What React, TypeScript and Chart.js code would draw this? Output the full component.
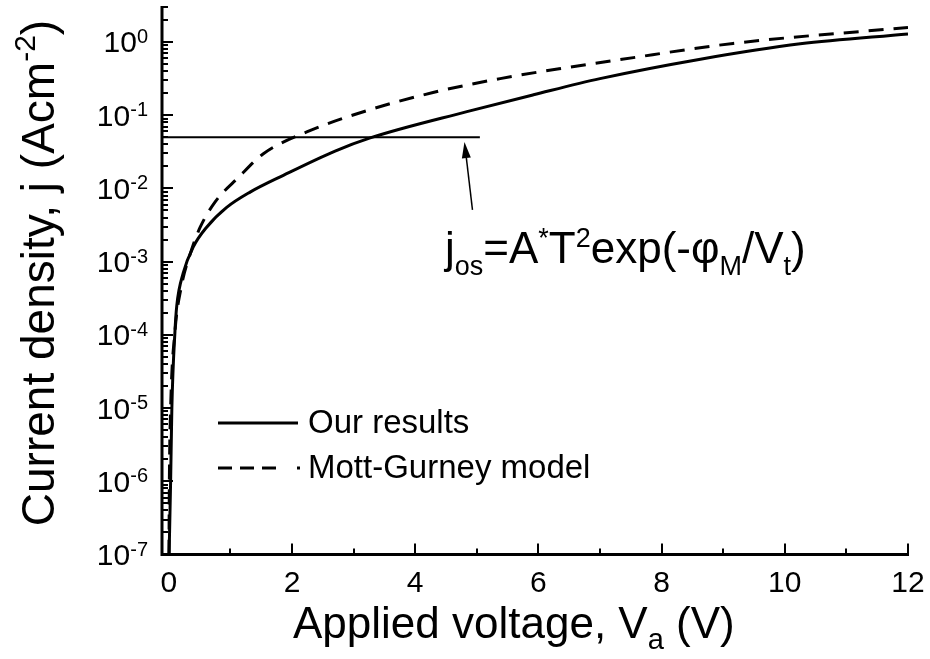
import React, { useEffect, useRef } from "react";
import { Chart, registerables } from "chart.js";

Chart.register(...registerables);

// Solid curve: computed current density vs applied voltage
const voltageOurs = [0.005, 0.03, 0.05, 0.1, 0.13, 0.235, 0.4, 0.615, 0.94, 1.32, 1.86, 2.7, 3.27, 4.84, 5.92, 7.0, 8.63, 10.25, 12];
const currentOurs = [1e-7, 1e-6, 1e-5, 1.1e-4, 2.5e-4, 7e-4, 1.6e-3, 2.95e-3, 5.5e-3, 8.9e-3, 1.51e-2, 3.24e-2, 4.9e-2, 0.112, 0.19, 0.316, 0.582, 0.944, 1.29];

// Dashed curve: Mott-Gurney space-charge-limited current
const voltageMG = [0.003, 0.01, 0.03, 0.1, 0.2, 0.37, 0.51, 0.75, 1.13, 1.53, 2.24, 3.21, 4.29, 5.38, 6.46, 7.33, 9.16, 12];
const currentMG = [1e-7, 1.1e-6, 1e-5, 1.1e-4, 4.4e-4, 1.45e-3, 2.95e-3, 6.5e-3, 1.41e-2, 2.95e-2, 5.9e-2, 0.115, 0.204, 0.316, 0.447, 0.575, 0.955, 1.58];

// Thermionic saturation level j_os and the arrow pointing to it
const josLevel = 0.05;
const josLineEnd = 5.05;
const arrowTail = { x: 4.93, y: 5.1e-3 };
const arrowTip = { x: 4.8, y: 0.043 };

// Axes
const xMin = -0.11;
const xMax = 12;
const yMin = 1e-7;
const yMax = 3.1;
const xMajorTicks = [0, 2, 4, 6, 8, 10, 12];
const xTickLabels = ["0", "2", "4", "6", "8", "10", "12"];
const xMinorTicks = [1, 3, 5, 7, 9, 11];
const yDecadeExponents = [-7, -6, -5, -4, -3, -2, -1, 0];
const yTickExponentLabels = ["-7", "-6", "-5", "-4", "-3", "-2", "-1", "0"];
const yMinorMultipliers = [2, 3, 4, 5, 6, 7, 8, 9];

const legendLabels = ["Our results", "Mott-Gurney model"];

const FONT = '"Liberation Sans", Arial, Helvetica, sans-serif';

type Part = { t: string; size: number; dy: number };

function measureParts(ctx: CanvasRenderingContext2D, parts: Part[]) {
  let w = 0;
  for (const p of parts) {
    ctx.font = `${p.size}px ${FONT}`;
    w += ctx.measureText(p.t).width;
  }
  return w;
}

function drawParts(
  ctx: CanvasRenderingContext2D,
  parts: Part[],
  x: number,
  y: number,
  align: "left" | "center" | "right"
) {
  const total = measureParts(ctx, parts);
  let cx = align === "left" ? x : align === "center" ? x - total / 2 : x - total;
  ctx.textAlign = "left";
  ctx.textBaseline = "alphabetic";
  for (const p of parts) {
    ctx.font = `${p.size}px ${FONT}`;
    ctx.fillText(p.t, cx, y + p.dy);
    cx += ctx.measureText(p.t).width;
  }
}

const decorPlugin = {
  id: "decor",
  afterDraw(chart: any) {
    const { ctx, chartArea: a, scales } = chart;
    const xs = scales.x;
    const ys = scales.y;
    ctx.save();
    ctx.strokeStyle = "#000";
    ctx.fillStyle = "#000";
    ctx.setLineDash([]);

    // axis lines (left and bottom only)
    ctx.lineWidth = 3;
    ctx.beginPath();
    ctx.moveTo(a.left, a.top);
    ctx.lineTo(a.left, a.bottom + 1.5);
    ctx.moveTo(a.left - 1.5, a.bottom);
    ctx.lineTo(a.right + 1, a.bottom);
    ctx.stroke();

    // inward ticks
    ctx.lineWidth = 2;
    ctx.beginPath();
    for (const v of xMajorTicks) {
      const px = Math.round(xs.getPixelForValue(v));
      ctx.moveTo(px, a.bottom);
      ctx.lineTo(px, a.bottom - 11);
    }
    for (const v of xMinorTicks) {
      const px = Math.round(xs.getPixelForValue(v));
      ctx.moveTo(px, a.bottom);
      ctx.lineTo(px, a.bottom - 6);
    }
    for (const e of yDecadeExponents) {
      const py = Math.round(ys.getPixelForValue(Math.pow(10, e)));
      ctx.moveTo(a.left, py);
      ctx.lineTo(a.left + 11, py);
      for (const m of yMinorMultipliers) {
        const val = m * Math.pow(10, e);
        if (val > yMax) continue;
        const pm = Math.round(ys.getPixelForValue(val));
        ctx.moveTo(a.left, pm);
        ctx.lineTo(a.left + 6, pm);
      }
    }
    ctx.stroke();

    // x tick labels
    ctx.font = `30px ${FONT}`;
    ctx.textAlign = "center";
    ctx.textBaseline = "alphabetic";
    xMajorTicks.forEach((v, i) => {
      ctx.fillText(xTickLabels[i], xs.getPixelForValue(v), a.bottom + 37);
    });

    // y tick labels: 10 with superscript exponent
    yDecadeExponents.forEach((e, i) => {
      const py = ys.getPixelForValue(Math.pow(10, e));
      const right = a.left - 14;
      ctx.font = `20px ${FONT}`;
      const supW = ctx.measureText(yTickExponentLabels[i]).width;
      ctx.textAlign = "right";
      ctx.fillText(yTickExponentLabels[i], right, py + 1);
      ctx.font = `30px ${FONT}`;
      ctx.fillText("10", right - supW, py + 10.5);
    });

    // x axis title
    drawParts(
      ctx,
      [
        { t: "Applied voltage, V", size: 44, dy: 0 },
        { t: "a", size: 29, dy: 11 },
        { t: " (V)", size: 44, dy: 0 },
      ],
      293,
      638,
      "left"
    );

    // y axis title
    ctx.save();
    ctx.translate(54, 273);
    ctx.rotate(-Math.PI / 2);
    drawParts(
      ctx,
      [
        { t: "Current density, j (Acm", size: 46, dy: 0 },
        { t: "-2", size: 30, dy: -19 },
        { t: ")", size: 46, dy: 0 },
      ],
      0,
      0,
      "center"
    );
    ctx.restore();

    // annotation formula
    drawParts(
      ctx,
      [
        { t: "j", size: 44, dy: 0 },
        { t: "os", size: 27, dy: 12 },
        { t: "=A", size: 44, dy: 0 },
        { t: "*", size: 27, dy: -16 },
        { t: "T", size: 44, dy: 0 },
        { t: "2", size: 27, dy: -16 },
        { t: "exp(-\u03c6", size: 44, dy: 0 },
        { t: "M", size: 27, dy: 12 },
        { t: "/V", size: 44, dy: 0 },
        { t: "t", size: 27, dy: 12 },
        { t: ")", size: 44, dy: 0 },
      ],
      445,
      263,
      "left"
    );

    // arrow to the j_os line
    const tx = xs.getPixelForValue(arrowTail.x);
    const ty = ys.getPixelForValue(arrowTail.y);
    const hx = xs.getPixelForValue(arrowTip.x);
    const hy = ys.getPixelForValue(arrowTip.y);
    const ang = Math.atan2(hy - ty, hx - tx);
    const headLen = 16;
    const headHalf = 4.5;
    const bx = hx - headLen * Math.cos(ang);
    const by = hy - headLen * Math.sin(ang);
    ctx.lineWidth = 1.5;
    ctx.beginPath();
    ctx.moveTo(tx, ty);
    ctx.lineTo(bx, by);
    ctx.stroke();
    ctx.beginPath();
    ctx.moveTo(hx, hy);
    ctx.lineTo(bx + headHalf * Math.sin(ang), by - headHalf * Math.cos(ang));
    ctx.lineTo(bx - headHalf * Math.sin(ang), by + headHalf * Math.cos(ang));
    ctx.closePath();
    ctx.fill();

    // legend
    ctx.lineWidth = 3;
    ctx.beginPath();
    ctx.moveTo(218, 423);
    ctx.lineTo(298, 423);
    ctx.stroke();
    ctx.setLineDash([14, 8, 14, 8, 14, 21, 3, 100]);
    ctx.beginPath();
    ctx.moveTo(218, 468);
    ctx.lineTo(302, 468);
    ctx.stroke();
    ctx.setLineDash([]);
    ctx.font = `33px ${FONT}`;
    ctx.textAlign = "left";
    ctx.textBaseline = "middle";
    ctx.fillText(legendLabels[0], 308, 424);
    ctx.fillText(legendLabels[1], 308, 469);

    ctx.restore();
  },
};

export default function App() {
  const canvasRef = useRef<HTMLCanvasElement | null>(null);

  useEffect(() => {
    const canvas = canvasRef.current;
    if (!canvas) return;
    const chart = new Chart(canvas, {
      type: "line",
      data: {
        datasets: [
          {
            label: legendLabels[0],
            data: voltageOurs.map((v, i) => ({ x: v, y: currentOurs[i] })),
            borderColor: "#000",
            borderWidth: 3,
            pointRadius: 0,
            fill: false,
            cubicInterpolationMode: "monotone",
          },
          {
            label: legendLabels[1],
            data: voltageMG.map((v, i) => ({ x: v, y: currentMG[i] })),
            borderColor: "#000",
            borderWidth: 3,
            borderDash: [15, 10],
            pointRadius: 0,
            fill: false,
            cubicInterpolationMode: "monotone",
          },
          {
            label: "j_os",
            data: [
              { x: xMin, y: josLevel },
              { x: josLineEnd, y: josLevel },
            ],
            borderColor: "#000",
            borderWidth: 1.8,
            pointRadius: 0,
            fill: false,
          },
        ],
      },
      options: {
        animation: false,
        responsive: false,
        maintainAspectRatio: false,
        devicePixelRatio: 1,
        layout: { padding: { left: 162, right: 22, top: 6, bottom: 104.5 } },
        plugins: { legend: { display: false }, tooltip: { enabled: false } },
        scales: {
          x: { type: "linear", min: xMin, max: xMax, display: false },
          y: { type: "logarithmic", min: yMin, max: yMax, display: false },
        },
      },
      plugins: [decorPlugin],
    });
    return () => chart.destroy();
  }, []);

  return (
    <div style={{ position: "absolute", left: 0, top: 0, width: 930, height: 659, background: "#fff" }}>
      <canvas ref={canvasRef} width={930} height={659} style={{ display: "block" }} />
    </div>
  );
}
